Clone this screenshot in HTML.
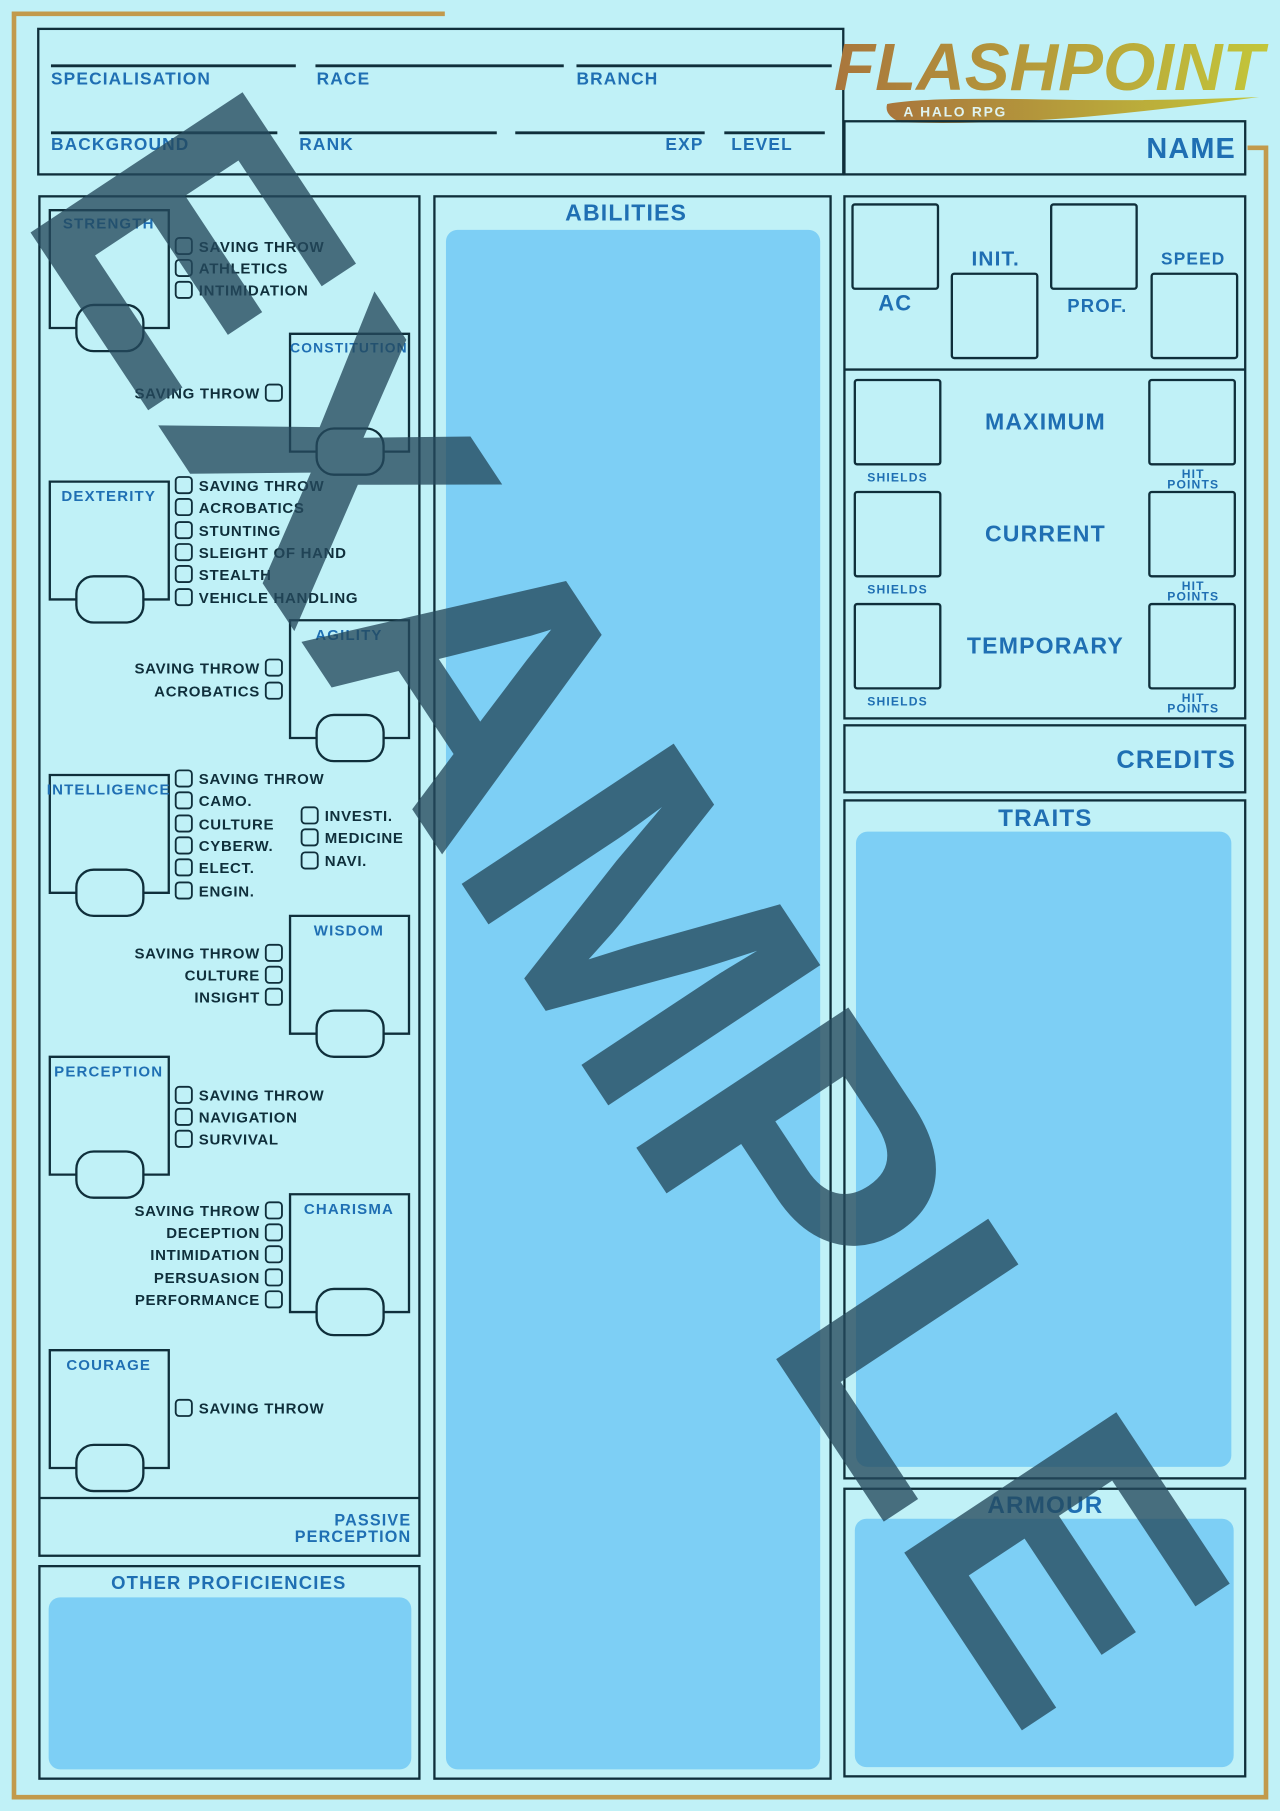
<!DOCTYPE html>
<html><head><meta charset="utf-8"><style>
html,body{margin:0;padding:0;background:#c0f1f7;}
svg{display:block}
.l{font-family:"Liberation Sans",sans-serif;font-weight:bold;fill:#1f6fb3;letter-spacing:1px}
.c{font-family:"Liberation Sans",sans-serif;font-weight:bold;fill:#0f2f3b;font-size:13px;letter-spacing:0.6px}
.b{fill:none;stroke:#0f2f3b;stroke-width:2}
.cb{fill:none;stroke:#0f2f3b;stroke-width:1.6}
</style></head><body>
<svg width="1280" height="1811" viewBox="0 0 1108 1568" xmlns="http://www.w3.org/2000/svg">
<defs>
<linearGradient id="g" x1="0" x2="1"><stop offset="0" stop-color="#a9763c"/><stop offset="1" stop-color="#c3c63a"/></linearGradient>
<g id="cbx"><rect width="14" height="14" rx="3" class="cb"/></g>
</defs>
<rect width="1108" height="1568" fill="#c0f1f7"/>
<path d="M385 12 H12 V1556 H1096 V128 H1080" fill="none" stroke="#c29a4c" stroke-width="4"/>

<rect x="33" y="25" width="697" height="126" class="b"/>
<g stroke="#0f2f3b" stroke-width="2.5">
<line x1="44" y1="57" x2="256" y2="57"/><line x1="273" y1="57" x2="488" y2="57"/><line x1="499" y1="57" x2="720" y2="57"/>
<line x1="44" y1="115" x2="240" y2="115"/><line x1="259" y1="115" x2="430" y2="115"/><line x1="446" y1="115" x2="610" y2="115"/><line x1="627" y1="115" x2="714" y2="115"/>
</g>
<g class="l" font-size="15">
<text x="44" y="73">SPECIALISATION</text><text x="274" y="73">RACE</text><text x="499" y="73">BRANCH</text>
<text x="44" y="130">BACKGROUND</text><text x="259" y="130">RANK</text><text x="609" y="130" text-anchor="end">EXP</text><text x="633" y="130">LEVEL</text>
</g>
<path d="M768 90 Q800 84 900 86 Q1000 88 1090 84 Q1000 96 930 102 Q850 108 780 106 Q765 100 768 90 Z" fill="url(#g)"/>
<text x="722" y="78" font-family="Liberation Sans,sans-serif" font-style="italic" font-weight="bold" font-size="58" fill="url(#g)" textLength="372" lengthAdjust="spacingAndGlyphs">FLASHPOINT</text>
<text x="782" y="101" font-family="Liberation Sans,sans-serif" font-weight="bold" font-size="12" fill="#dff3f0" letter-spacing="1.5">A HALO RPG</text>
<rect x="731" y="105" width="347" height="46" class="b"/>
<text x="1070" y="137" class="l" font-size="25" text-anchor="end">NAME</text>

<rect x="34" y="170" width="329" height="1177" class="b"/>
<line x1="34" y1="1297" x2="363" y2="1297" class="b"/>
<text x="356" y="1321" class="l" font-size="14" text-anchor="end">PASSIVE</text>
<text x="356" y="1335" class="l" font-size="14" text-anchor="end">PERCEPTION</text>
<rect x="34" y="1356" width="329" height="184" class="b"/>
<text x="198" y="1376" class="l" font-size="16" text-anchor="middle">OTHER PROFICIENCIES</text>
<rect x="42" y="1383" width="314" height="149" rx="10" fill="#7dcff5"/>

<rect x="376" y="170" width="343" height="1370" class="b"/>
<text x="542" y="191" class="l" font-size="20" text-anchor="middle">ABILITIES</text>
<rect x="386" y="199" width="324" height="1333" rx="10" fill="#7dcff5"/>

<g>
<g transform="translate(43,182)"><path d="M23 102 H0 V0 H103 V102 H81" class="b"/><rect x="23" y="82" width="58" height="40" rx="15" class="b"/><text x="51" y="16" class="l" font-size="13" text-anchor="middle">STRENGTH</text></g>
<g transform="translate(43,417)"><path d="M23 102 H0 V0 H103 V102 H81" class="b"/><rect x="23" y="82" width="58" height="40" rx="15" class="b"/><text x="51" y="17" class="l" font-size="13" text-anchor="middle">DEXTERITY</text></g>
<g transform="translate(43,671)"><path d="M23 102 H0 V0 H103 V102 H81" class="b"/><rect x="23" y="82" width="58" height="40" rx="15" class="b"/><text x="51" y="17" class="l" font-size="13" text-anchor="middle">INTELLIGENCE</text></g>
<g transform="translate(43,915)"><path d="M23 102 H0 V0 H103 V102 H81" class="b"/><rect x="23" y="82" width="58" height="40" rx="15" class="b"/><text x="51" y="17" class="l" font-size="13" text-anchor="middle">PERCEPTION</text></g>
<g transform="translate(43,1169)"><path d="M23 102 H0 V0 H103 V102 H81" class="b"/><rect x="23" y="82" width="58" height="40" rx="15" class="b"/><text x="51" y="17" class="l" font-size="13" text-anchor="middle">COURAGE</text></g>
<g transform="translate(251,289)"><path d="M23 102 H0 V0 H103 V102 H81" class="b"/><rect x="23" y="82" width="58" height="40" rx="15" class="b"/><text x="51" y="16" class="l" font-size="12" text-anchor="middle">CONSTITUTION</text></g>
<g transform="translate(251,537)"><path d="M23 102 H0 V0 H103 V102 H81" class="b"/><rect x="23" y="82" width="58" height="40" rx="15" class="b"/><text x="51" y="17" class="l" font-size="13" text-anchor="middle">AGILITY</text></g>
<g transform="translate(251,793)"><path d="M23 102 H0 V0 H103 V102 H81" class="b"/><rect x="23" y="82" width="58" height="40" rx="15" class="b"/><text x="51" y="17" class="l" font-size="13" text-anchor="middle">WISDOM</text></g>
<g transform="translate(251,1034)"><path d="M23 102 H0 V0 H103 V102 H81" class="b"/><rect x="23" y="82" width="58" height="40" rx="15" class="b"/><text x="51" y="17" class="l" font-size="13" text-anchor="middle">CHARISMA</text></g>
</g>

<g>
<use href="#cbx" x="152" y="206"/><text x="172" y="218" class="c">SAVING THROW</text>
<use href="#cbx" x="152" y="225"/><text x="172" y="237" class="c">ATHLETICS</text>
<use href="#cbx" x="152" y="244"/><text x="172" y="256" class="c">INTIMIDATION</text>
<use href="#cbx" x="152" y="413"/><text x="172" y="425" class="c">SAVING THROW</text>
<use href="#cbx" x="152" y="432"/><text x="172" y="444" class="c">ACROBATICS</text>
<use href="#cbx" x="152" y="452"/><text x="172" y="464" class="c">STUNTING</text>
<use href="#cbx" x="152" y="471"/><text x="172" y="483" class="c">SLEIGHT OF HAND</text>
<use href="#cbx" x="152" y="490"/><text x="172" y="502" class="c">STEALTH</text>
<use href="#cbx" x="152" y="510"/><text x="172" y="522" class="c">VEHICLE HANDLING</text>
<use href="#cbx" x="152" y="667"/><text x="172" y="679" class="c">SAVING THROW</text>
<use href="#cbx" x="152" y="686"/><text x="172" y="698" class="c">CAMO.</text>
<use href="#cbx" x="152" y="706"/><text x="172" y="718" class="c">CULTURE</text>
<use href="#cbx" x="152" y="725"/><text x="172" y="737" class="c">CYBERW.</text>
<use href="#cbx" x="152" y="744"/><text x="172" y="756" class="c">ELECT.</text>
<use href="#cbx" x="152" y="764"/><text x="172" y="776" class="c">ENGIN.</text>
<use href="#cbx" x="261" y="699"/><text x="281" y="711" class="c">INVESTI.</text>
<use href="#cbx" x="261" y="718"/><text x="281" y="730" class="c">MEDICINE</text>
<use href="#cbx" x="261" y="738"/><text x="281" y="750" class="c">NAVI.</text>
<use href="#cbx" x="152" y="941"/><text x="172" y="953" class="c">SAVING THROW</text>
<use href="#cbx" x="152" y="960"/><text x="172" y="972" class="c">NAVIGATION</text>
<use href="#cbx" x="152" y="979"/><text x="172" y="991" class="c">SURVIVAL</text>
<use href="#cbx" x="152" y="1212"/><text x="172" y="1224" class="c">SAVING THROW</text>
</g>
<g text-anchor="end">
<use href="#cbx" x="230" y="333"/><text x="225" y="345" class="c">SAVING THROW</text>
<use href="#cbx" x="230" y="571"/><text x="225" y="583" class="c">SAVING THROW</text>
<use href="#cbx" x="230" y="591"/><text x="225" y="603" class="c">ACROBATICS</text>
<use href="#cbx" x="230" y="818"/><text x="225" y="830" class="c">SAVING THROW</text>
<use href="#cbx" x="230" y="837"/><text x="225" y="849" class="c">CULTURE</text>
<use href="#cbx" x="230" y="856"/><text x="225" y="868" class="c">INSIGHT</text>
<use href="#cbx" x="230" y="1041"/><text x="225" y="1053" class="c">SAVING THROW</text>
<use href="#cbx" x="230" y="1060"/><text x="225" y="1072" class="c">DECEPTION</text>
<use href="#cbx" x="230" y="1079"/><text x="225" y="1091" class="c">INTIMIDATION</text>
<use href="#cbx" x="230" y="1099"/><text x="225" y="1111" class="c">PERSUASION</text>
<use href="#cbx" x="230" y="1118"/><text x="225" y="1130" class="c">PERFORMANCE</text>
</g>

<rect x="731" y="170" width="347" height="452" class="b"/>
<line x1="731" y1="320" x2="1078" y2="320" class="b"/>
<g class="b">
<rect x="738" y="177" width="74" height="73" rx="2"/><rect x="824" y="237" width="74" height="73" rx="2"/>
<rect x="910" y="177" width="74" height="73" rx="2"/><rect x="997" y="237" width="74" height="73" rx="2"/>
<rect x="740" y="329" width="74" height="73" rx="2"/><rect x="995" y="329" width="74" height="73" rx="2"/>
<rect x="740" y="426" width="74" height="73" rx="2"/><rect x="995" y="426" width="74" height="73" rx="2"/>
<rect x="740" y="523" width="74" height="73" rx="2"/><rect x="995" y="523" width="74" height="73" rx="2"/>
</g>
<g class="l" text-anchor="middle">
<text x="775" y="269" font-size="19">AC</text>
<text x="862" y="230" font-size="18">INIT.</text>
<text x="950" y="270" font-size="16">PROF.</text>
<text x="1033" y="229" font-size="15">SPEED</text>
<text x="905" y="372" font-size="20">MAXIMUM</text>
<text x="905" y="469" font-size="20">CURRENT</text>
<text x="905" y="566" font-size="20">TEMPORARY</text>
<g font-size="10.5"><text x="777" y="417">SHIELDS</text><text x="777" y="514">SHIELDS</text><text x="777" y="611">SHIELDS</text>
<text x="1033" y="414">HIT</text><text x="1033" y="423">POINTS</text>
<text x="1033" y="511">HIT</text><text x="1033" y="520">POINTS</text>
<text x="1033" y="608">HIT</text><text x="1033" y="617">POINTS</text></g>
</g>
<rect x="731" y="628" width="347" height="58" class="b"/>
<text x="1070" y="665" class="l" font-size="22" text-anchor="end">CREDITS</text>
<rect x="731" y="693" width="347" height="587" class="b"/>
<text x="905" y="715" class="l" font-size="21" text-anchor="middle">TRAITS</text>
<rect x="741" y="720" width="325" height="550" rx="10" fill="#7dcff5"/>
<rect x="731" y="1289" width="347" height="249" class="b"/>
<text x="905" y="1310" class="l" font-size="21" text-anchor="middle">ARMOUR</text>
<rect x="740" y="1315" width="328" height="215" rx="10" fill="#7dcff5"/>

<text transform="translate(545,785) rotate(56.5)" x="0" y="0" text-anchor="middle" dominant-baseline="central" font-family="Liberation Sans,sans-serif" font-weight="bold" font-size="320" fill="#25495c" fill-opacity="0.78" textLength="1590" lengthAdjust="spacingAndGlyphs">EXAMPLE</text>
</svg>
</body></html>
